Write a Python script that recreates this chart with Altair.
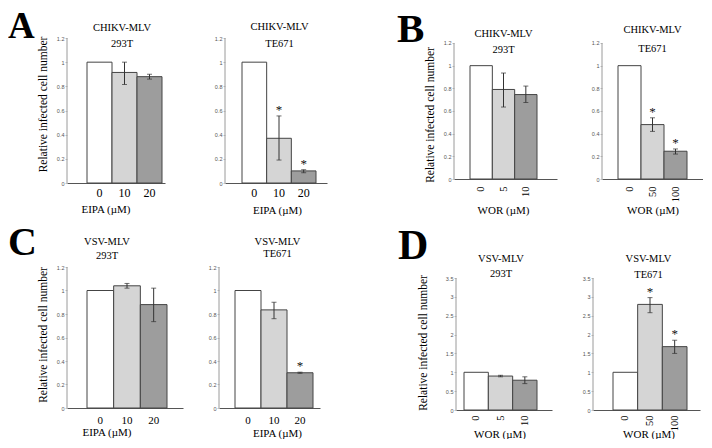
import altair as alt
import pandas as pd

SERIF = "Liberation Serif"

# ---------------- data ----------------
eipa_doses = ["0", "10", "20"]
wor_doses_293 = ["0", "5", "10"]
wor_doses_te = ["0", "50", "100"]

a1_vals = [1.0, 0.915, 0.88]
a1_lo = [None, 0.815, 0.86]
a1_hi = [None, 1.0, 0.90]
a1_star = [False, False, False]

a2_vals = [1.0, 0.37, 0.10]
a2_lo = [None, 0.19, 0.085]
a2_hi = [None, 0.555, 0.11]
a2_star = [False, True, True]

b1_vals = [1.0, 0.79, 0.745]
b1_lo = [None, 0.635, 0.675]
b1_hi = [None, 0.935, 0.82]
b1_star = [False, False, False]

b2_vals = [1.0, 0.48, 0.245]
b2_lo = [None, 0.42, 0.22]
b2_hi = [None, 0.54, 0.265]
b2_star = [False, True, True]

c1_vals = [1.0, 1.04, 0.88]
c1_lo = [None, 1.02, 0.735]
c1_hi = [None, 1.06, 1.02]
c1_star = [False, False, False]

c2_vals = [1.0, 0.835, 0.30]
c2_lo = [None, 0.76, 0.295]
c2_hi = [None, 0.90, 0.305]
c2_star = [False, False, True]

d1_vals = [1.0, 0.90, 0.79]
d1_lo = [None, 0.88, 0.70]
d1_hi = [None, 0.92, 0.88]
d1_star = [False, False, False]

d2_vals = [1.0, 2.80, 1.68]
d2_lo = [None, 2.58, 1.50]
d2_hi = [None, 2.98, 1.85]
d2_star = [False, True, True]

ticks_low = [0, 0.2, 0.4, 0.6, 0.8, 1, 1.2]
ticks_high = [0, 0.5, 1, 1.5, 2, 2.5, 3, 3.5]

ytitle = "Relative infected cell number"
xt_eipa = "EIPA (\u00b5M)"
xt_wor = "WOR (\u00b5M)"

# ---------------- layout / style ----------------
SHADES = ["s0", "s1", "s2"]
FILLS = ["#ffffff", "#d5d5d5", "#9d9d9d"]


def one_text(txt, x, y, size, weight="normal", align="center"):
    return alt.Chart(pd.DataFrame({"a": [0]})).mark_text(
        text=txt, font=SERIF, fontSize=size, fontWeight=weight,
        align=align, baseline="alphabetic", color="black"
    ).encode(x=alt.value(x), y=alt.value(y))


def panel(doses, vals, lo, hi, star, title_lines, xtitle, ticks, lay,
          show_ytitle=False, letter=None):
    df = pd.DataFrame({"dose": doses, "val": vals, "lo": lo, "hi": hi,
                       "star": ["*" if s else "" for s in star],
                       "shade": SHADES})
    w, h = lay["w"], lay["h"]
    b0, b1 = lay["bars"]
    bw = b1 - b0
    step = bw / 3.0
    outer = w - bw
    po = outer / (2 * step)
    al = b0 / outer
    xs = alt.Scale(domain=doses, paddingInner=0, paddingOuter=po, align=al)
    ys = alt.Scale(domain=[0, lay["ymax"]], nice=False, zero=True)

    xaxis = alt.Axis(
        title=xtitle, titleFont=SERIF, titleFontSize=11, titleFontWeight="normal",
        titleColor="black", titleX=lay["tx"], titleY=lay["ty"], titleAlign="center",
        titleBaseline="alphabetic", titleAnchor="start",
        labelFont=SERIF, labelFontSize=lay["lfs"], labelColor="black",
        labelAngle=lay["langle"], labelPadding=lay["lpad"], labelOverlap=False,
        ticks=False, domainColor="#555555", domainWidth=1, grid=False,
    )
    yax = dict(values=ticks, tickCount=len(ticks), format="~g", grid=False,
               domain=False, ticks=True, tickSize=2, tickColor="#999999",
               tickWidth=0.6, labelFontSize=5.5, labelColor="#555555",
               labelPadding=1, labelOverlap=False, labelFlush=False)
    if show_ytitle:
        yax.update(title=ytitle, titleFont=SERIF, titleFontSize=11.5,
                   titleFontWeight="normal", titleColor="black",
                   titleAngle=270, titleX=lay["yx"], titleY=lay["yy"],
                   titleAlign="center", titleBaseline="middle")
    else:
        yax.update(title=None)
    yaxis = alt.Axis(**yax)

    X = alt.X("dose:N", sort=doses, scale=xs, axis=xaxis)

    base = alt.Chart(df)
    bars = base.mark_bar(stroke="#444444", strokeWidth=1).encode(
        x=X,
        y=alt.Y("val:Q", scale=ys, axis=yaxis),
        color=alt.Color("shade:N", scale=alt.Scale(domain=SHADES, range=FILLS), legend=None),
    )
    errd = base.transform_filter("datum.lo != null")
    rules = errd.mark_rule(color="#333333", strokeWidth=1).encode(
        x=X, y=alt.Y("lo:Q", scale=ys, axis=yaxis), y2="hi:Q")
    cap_lo = errd.mark_tick(color="#333333", size=5, thickness=1).encode(
        x=X, y=alt.Y("lo:Q", scale=ys, axis=yaxis))
    cap_hi = errd.mark_tick(color="#333333", size=5, thickness=1).encode(
        x=X, y=alt.Y("hi:Q", scale=ys, axis=yaxis))
    stars = base.transform_filter("datum.star != ''").mark_text(
        font=SERIF, fontSize=13, baseline="alphabetic", dy=-2
    ).encode(x=X, y=alt.Y("hi:Q", scale=ys, axis=yaxis), text="star:N",
             color=alt.value("#111111"))
    axis_line = alt.Chart(pd.DataFrame({"a": [0]})).mark_rule(
        color="#9a9a9a", strokeWidth=1).encode(
        x=alt.value(0), y=alt.datum(0), y2=alt.datum(lay["ytop"]))

    cx = w / 2.0 + lay["tdx"]
    t1 = one_text(title_lines[0], cx, lay["t1"] + 3.5, 10.5)
    t2 = one_text(title_lines[1], cx, lay["t2"] + 3.5, 10.5)

    layers = [bars, rules, cap_lo, cap_hi, stars, axis_line, t1, t2]
    if letter is not None:
        layers.append(one_text(letter, lay["lx"], lay["ly"], lay["lfs_letter"],
                               "bold", "left"))

    return alt.layer(*layers).properties(width=w, height=h)


def spacer(g):
    return alt.Chart(pd.DataFrame({"s": [0]})).mark_point(opacity=0, size=1).encode(
        x=alt.value(1), y=alt.value(5)).properties(width=g, height=10)


# t1/t2: title line centres relative to the panel's plot top
L = {
    "A1": dict(w=98, h=145, bars=(20, 95), ymax=1.2, ytop=1.2, tx=38.5, ty=29,
               langle=0, lpad=4.5, lfs=12, yx=-24, yy=66, t1=-11, t2=5, tdx=6,
               lx=-59, ly=0, lfs_letter=37),
    "A2": dict(w=102, h=145, bars=(17, 91), ymax=1.2, ytop=1.2, tx=52, ty=30,
               langle=0, lpad=4.5, lfs=12, t1=-12, t2=5, tdx=3.5),
    "B1": dict(w=103, h=141, bars=(16, 83), ymax=1.2441, ytop=1.2, tx=49, ty=34,
               langle=270, lpad=7, lfs=10.5, yx=-24, yy=76.5, t1=-5, t2=11, tdx=-2,
               lx=-57, ly=4, lfs_letter=41),
    "B2": dict(w=101, h=141, bars=(16, 85), ymax=1.2441, ytop=1.2, tx=50.5, ty=34,
               langle=270, lpad=7, lfs=10.5, t1=-9, t2=10, tdx=0),
    "C1": dict(w=116, h=141, bars=(20, 100), ymax=1.2, ytop=1.2, tx=39.5, ty=27,
               langle=0, lpad=6.5, lfs=11, yx=-24, yy=67.5, t1=-26, t2=-12, tdx=-18,
               lx=-59, ly=-12, lfs_letter=40),
    "C2": dict(w=101, h=141, bars=(16, 94), ymax=1.2, ytop=1.2, tx=58, ty=28,
               langle=0, lpad=6.5, lfs=11, t1=-26, t2=-14, tdx=8),
    "D1": dict(w=96, h=143, bars=(8, 81), ymax=3.7917, ytop=3.5, tx=43.5, ty=27,
               langle=270, lpad=5, lfs=10.5, yx=-33, yy=75.5, t1=-9, t2=6, tdx=-3,
               lx=-58, ly=-8, lfs_letter=42),
    "D2": dict(w=107, h=143, bars=(20, 94), ymax=3.7917, ytop=3.5, tx=55.5, ty=27,
               langle=270, lpad=5, lfs=10.5, t1=-9, t2=7, tdx=2),
}

A1 = panel(eipa_doses, a1_vals, a1_lo, a1_hi, a1_star, ["CHIKV-MLV", "293T"], xt_eipa,
           ticks_low, L["A1"], show_ytitle=True, letter="A")
A2 = panel(eipa_doses, a2_vals, a2_lo, a2_hi, a2_star, ["CHIKV-MLV", "TE671"], xt_eipa,
           ticks_low, L["A2"])
B1 = panel(wor_doses_293, b1_vals, b1_lo, b1_hi, b1_star, ["CHIKV-MLV", "293T"], xt_wor,
           ticks_low, L["B1"], show_ytitle=True, letter="B")
B2 = panel(wor_doses_te, b2_vals, b2_lo, b2_hi, b2_star, ["CHIKV-MLV", "TE671"], xt_wor,
           ticks_low, L["B2"])
C1 = panel(eipa_doses, c1_vals, c1_lo, c1_hi, c1_star, ["VSV-MLV", "293T"], xt_eipa,
           ticks_low, L["C1"], show_ytitle=True, letter="C")
C2 = panel(eipa_doses, c2_vals, c2_lo, c2_hi, c2_star, ["VSV-MLV", "TE671"], xt_eipa,
           ticks_low, L["C2"])
D1 = panel(wor_doses_293, d1_vals, d1_lo, d1_hi, d1_star, ["VSV-MLV", "293T"], xt_wor,
           ticks_high, L["D1"], show_ytitle=True, letter="D")
D2 = panel(wor_doses_te, d2_vals, d2_lo, d2_hi, d2_star, ["VSV-MLV", "TE671"], xt_wor,
           ticks_high, L["D2"])

row1 = alt.hconcat(A1, spacer(60), A2, spacer(127), B1, spacer(45), B2,
                   spacing=0, bounds="flush")
row2 = alt.hconcat(C1, spacer(36), C2, spacer(136), D1, spacer(41), D2,
                   spacing=0, bounds="flush")

chart = alt.vconcat(row1, row2, spacing=8).properties(
    padding=0,
    background="white",
).configure_view(stroke=None)

chart.save("out.html", embed_options={"renderer": "svg", "actions": False})
